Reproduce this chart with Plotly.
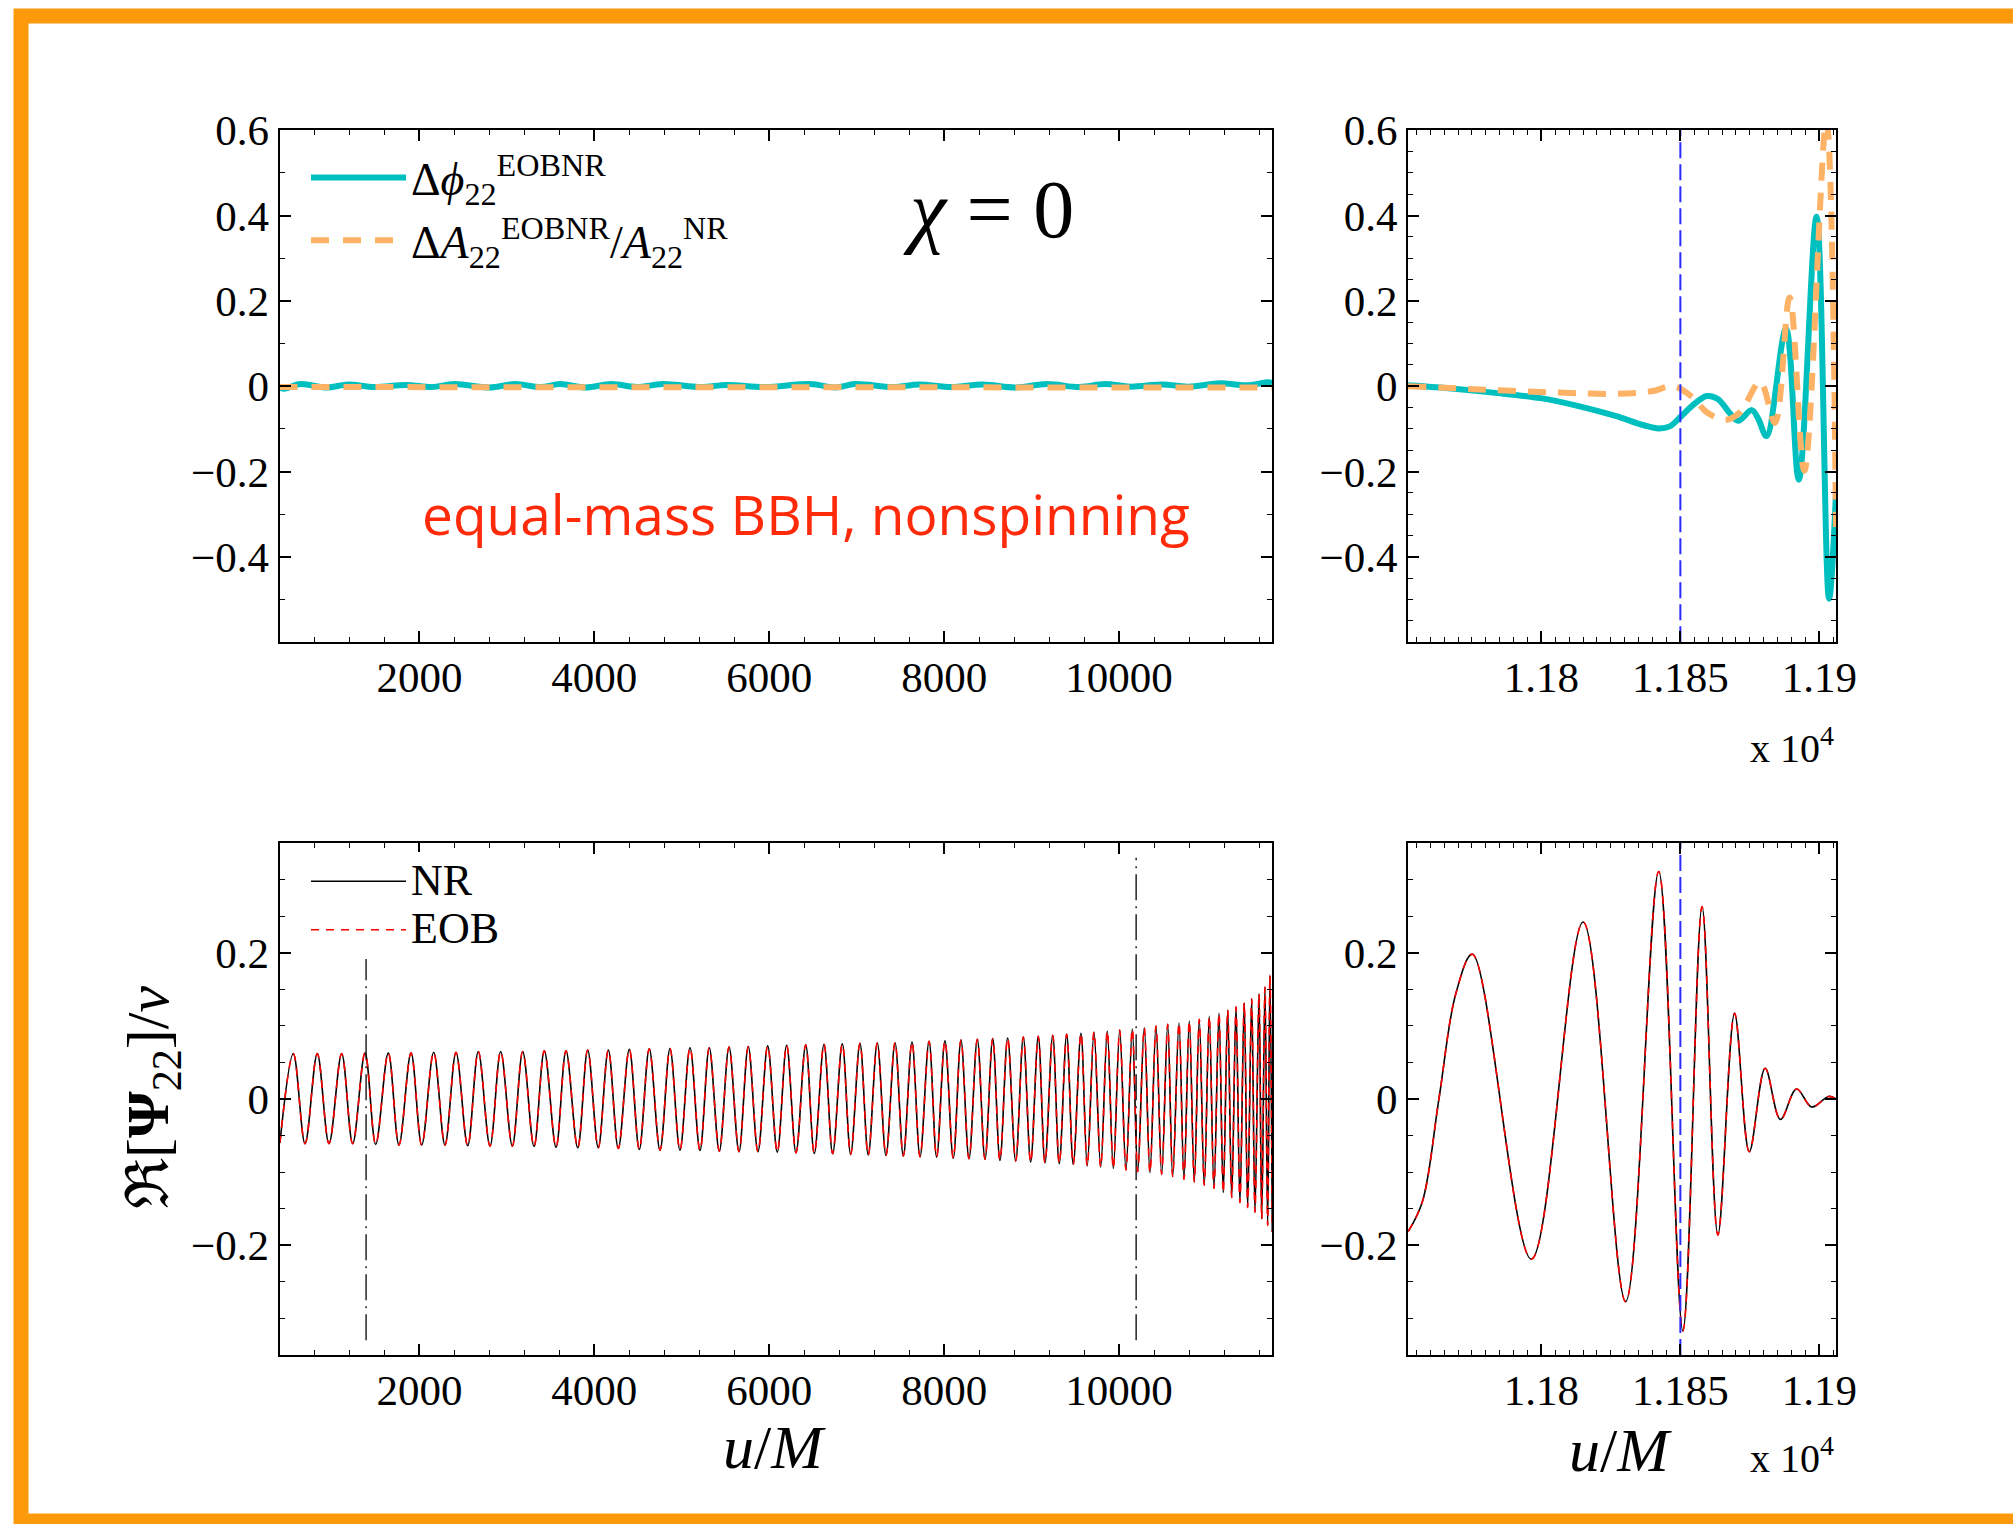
import plotly.graph_objects as go

# ---------------- data ----------------
# top-left panel: phase difference (cyan) and relative amplitude difference (orange)
dphi_u = [400, 456, 640, 933, 1189, 1483, 1849, 2142, 2399, 2802, 3095, 3388, 3608, 3901,
          4195, 4488, 4781, 5221, 5514, 5954, 6467, 6760, 6980, 7420, 7713, 8080, 8446,
          8813, 9179, 9546, 9839, 10132, 10497, 10791, 11158, 11451, 11708, 11752]
dphi = [-0.003, -0.006, 0.005, -0.003, 0.004, -0.002, 0.003, -0.002, 0.005, -0.003, 0.005,
        -0.002, 0.005, -0.003, 0.005, -0.002, 0.005, -0.002, 0.003, -0.002, 0.005, -0.003,
        0.005, -0.002, 0.004, -0.002, 0.004, -0.003, 0.005, -0.002, 0.005, -0.001, 0.004,
        -0.001, 0.007, 0.002, 0.009, 0.007]
damp_u = [400, 2000, 4000, 6000, 8000, 10000, 11752]
damp = [-0.002, -0.002, -0.001, -0.002, -0.002, -0.002, -0.003]

# top-right panel (zoom on merger)
dphi_m_u = [11752, 11766.5, 11782.5, 11799.7, 11813, 11826.3, 11836.9, 11842.2, 11846.2,
            11850.2, 11854.2, 11859.5, 11863.5, 11867.5, 11870.8, 11875.7, 11878.0, 11881.0,
            11888.0, 11892.6, 11899.0, 11903.5, 11906.0]
dphi_m = [0.002, -0.005, -0.015, -0.028, -0.046, -0.069, -0.0915, -0.099, -0.094, -0.071,
          -0.046, -0.023, -0.030, -0.061, -0.081, -0.056, -0.076, -0.117, 0.135, -0.219,
          0.397, -0.498, -0.249]
damp_m_u = [11752, 11779.8, 11806.4, 11826.3, 11839.6, 11847.5, 11854.2, 11859.5, 11866.2,
            11871.5, 11878.7, 11884.0, 11889.3, 11894.6, 11902.5, 11906.0]
damp_m = [0.0, -0.008, -0.015, -0.018, -0.012, 0.0, -0.025, -0.061, -0.079, -0.061, 0.01,
          -0.086, 0.208, -0.198, 0.62, -0.33]

# bottom-left panel: waveform extrema (u/M, Re[Psi22]/nu)
peak_u = [558, 832, 1111, 1378, 1644, 1904, 2163, 2418, 2673, 2929, 3181, 3428, 3676, 3924, 4160,
          4400, 4628, 4865, 5094, 5314, 5540, 5760, 5982, 6199, 6417, 6626, 6835, 7037, 7235,
          7438, 7632, 7827, 8009,
          8192, 8379, 8555, 8726, 8905, 9076, 9241, 9401, 9564, 9713, 9865, 10007, 10151, 10288,
          10422, 10556, 10685, 10803, 10917, 11031, 11142, 11242, 11337, 11431, 11516, 11600,
          11668, 11725]
peak_amp = [0.062, 0.062, 0.062, 0.063, 0.063, 0.063, 0.064, 0.064, 0.065, 0.065, 0.065, 0.066,
            0.066, 0.067, 0.067,
            0.068, 0.0685, 0.069, 0.070, 0.070, 0.071, 0.0717, 0.0726, 0.0735, 0.074, 0.0748,
            0.0753, 0.076, 0.0766, 0.077, 0.078, 0.0789, 0.0794,
            0.0807, 0.0816, 0.0825, 0.0834, 0.0848, 0.0857, 0.0871, 0.0884, 0.0898, 0.0916,
            0.093, 0.0943, 0.0957, 0.0975, 0.0998, 0.102, 0.104, 0.1066, 0.109, 0.113, 0.117,
            0.1215, 0.126, 0.1315, 0.137, 0.144, 0.153, 0.169]
trough_u = [405, 692, 966, 1237, 1500, 1766, 2026, 2292, 2552, 2807, 3062, 3310, 3562, 3810, 4045,
            4274, 4514, 4751, 4979, 5208, 5429, 5654, 5871, 6092, 6306, 6515, 6725, 6931, 7132,
            7335, 7533, 7724, 7914,
            8104, 8284, 8467, 8638, 8818, 8989, 9153, 9316, 9476, 9636, 9790, 9934, 10079, 10213,
            10353, 10487, 10613, 10742, 10860, 10974, 11085, 11191, 11288, 11382, 11470, 11554,
            11631, 11699, 11752]
trough_amp = [0.060, 0.061, 0.061, 0.061, 0.062, 0.063, 0.063, 0.063, 0.064, 0.0644, 0.0644,
              0.065, 0.066, 0.0667, 0.0667,
              0.0676, 0.069, 0.070, 0.070, 0.0703, 0.0712, 0.072, 0.072, 0.0726, 0.0735, 0.0744,
              0.0748, 0.0757, 0.0766, 0.0771, 0.078, 0.0789, 0.0794,
              0.081, 0.0816, 0.0825, 0.0839, 0.0848, 0.0862, 0.0871, 0.0884, 0.0893, 0.0916,
              0.093, 0.0948, 0.097, 0.0993, 0.1007, 0.103, 0.106, 0.1097, 0.1134, 0.118, 0.1224,
              0.128, 0.1347, 0.1415, 0.1483, 0.155, 0.164, 0.173, 0.182]

# bottom-right panel: merger/ringdown waveform
merger_u = [11752.1, 11757.2, 11763.2, 11769.2, 11775.2, 11796.4, 11815.0, 11830.3, 11842.2,
            11850.9, 11857.8, 11863.5, 11869.5, 11874.8, 11880.5, 11886.0, 11891.8, 11897.3,
            11903.3, 11906.0]
merger_psi = [-0.181, -0.140, 0.002, 0.144, 0.198, -0.219, 0.242, -0.277, 0.311, -0.317, 0.263,
              -0.186, 0.117, -0.072, 0.042, -0.028, 0.0136, -0.011, 0.0035, 0.0]

# vertical markers
window_u = [1390, 10195]
window_y = [-0.33, 0.33]
t_ref = 11850

# tick labels for the zoomed panels
zoom_ticks = {"11800": "1.18", "11850": "1.185", "11900": "1.19"}

# ---------------- build curves ----------------
wave = sorted(list(zip(peak_u, peak_amp)) + [(u, -a) for u, a in zip(trough_u, trough_amp)])
wave_u = [p[0] for p in wave]
wave_psi = [p[1] for p in wave]

CYAN = "#00BFBF"
ORANGE = "#FDB266"
BLUE = "#2A2AFF"
SERIF = "Liberation Serif, DejaVu Serif, serif"

fig = go.Figure()

# top-left
fig.add_trace(go.Scatter(x=dphi_u, y=dphi, mode="lines", line=dict(color=CYAN, width=6, shape="spline"),
                         name="Δ<i>ϕ</i><sub>22</sub><sup>EOBNR</sup>", legend="legend",
                         legendgroup="a", xaxis="x", yaxis="y"))
fig.add_trace(go.Scatter(x=damp_u, y=damp, mode="lines",
                         line=dict(color=ORANGE, width=6, dash="18px,14px"),
                         name="Δ<i>A</i><sub>22</sub><sup>EOBNR</sup>/<i>A</i><sub>22</sub><sup>NR</sup>",
                         legend="legend", legendgroup="b", xaxis="x", yaxis="y"))
# top-right
fig.add_trace(go.Scatter(x=dphi_m_u, y=dphi_m, mode="lines",
                         line=dict(color=CYAN, width=6, shape="spline"),
                         showlegend=False, xaxis="x2", yaxis="y2"))
fig.add_trace(go.Scatter(x=damp_m_u, y=damp_m, mode="lines",
                         line=dict(color=ORANGE, width=6, dash="18px,12px", shape="spline"),
                         showlegend=False, xaxis="x2", yaxis="y2"))
fig.add_trace(go.Scatter(x=[t_ref, t_ref], y=[-0.6, 0.6], mode="lines",
                         line=dict(color=BLUE, width=2, dash="16px,6px"),
                         showlegend=False, xaxis="x2", yaxis="y2"))
# bottom-left
for wu in window_u:
    fig.add_trace(go.Scatter(x=[wu, wu], y=window_y, mode="lines",
                             line=dict(color="black", width=1.3, dash="26px,6px,2px,6px"),
                             showlegend=False, xaxis="x3", yaxis="y3"))
fig.add_trace(go.Scatter(x=wave_u, y=wave_psi, mode="lines",
                         line=dict(color="black", width=1.6, shape="spline"),
                         name='<span style="font-size:44px">NR</span>', legend="legend2",
                         legendgroup="c", xaxis="x3", yaxis="y3"))
fig.add_trace(go.Scatter(x=wave_u, y=wave_psi, mode="lines",
                         line=dict(color="red", width=1.6, dash="8px,7px", shape="spline"),
                         name='<span style="font-size:44px">EOB</span>', legend="legend2",
                         legendgroup="d", xaxis="x3", yaxis="y3"))
# bottom-right
fig.add_trace(go.Scatter(x=merger_u, y=merger_psi, mode="lines",
                         line=dict(color="black", width=1.6, shape="spline"),
                         showlegend=False, xaxis="x4", yaxis="y4"))
fig.add_trace(go.Scatter(x=merger_u, y=merger_psi, mode="lines",
                         line=dict(color="red", width=1.6, dash="8px,7px", shape="spline"),
                         showlegend=False, xaxis="x4", yaxis="y4"))
fig.add_trace(go.Scatter(x=[t_ref, t_ref], y=[-0.35, 0.35], mode="lines",
                         line=dict(color=BLUE, width=2, dash="16px,6px"),
                         showlegend=False, xaxis="x4", yaxis="y4"))

W, H = 2013, 1524
XL = [279.5 / W, 1272.3 / W]
XR = [1408 / W, 1836 / W]
YT = [1 - 642 / H, 1 - 130 / H]
YB = [1 - 1355 / H, 1 - 843 / H]


def minor(step):
    return dict(ticks="inside", dtick=step, tick0=0, ticklen=5, tickcolor="black", tickwidth=1.2,
                showgrid=False)


def ax(**kw):
    base = dict(showline=True, linecolor="black", linewidth=2, mirror="ticks", ticks="inside",
                ticklen=11, tickwidth=1.5, tickcolor="black", showgrid=False, zeroline=False,
                automargin=False, tickmode="linear", tick0=0,
                tickfont=dict(family=SERIF, size=43, color="black"))
    base.update(kw)
    return base


fig.update_layout(
    template="none",
    width=W, height=H, margin=dict(l=0, r=0, t=0, b=0, pad=0),
    paper_bgcolor="white", plot_bgcolor="white",
    xaxis=ax(domain=XL, anchor="y", range=[400, 11752], dtick=2000, tickformat="d",
             ticklabelstandoff=-4, minor=minor(400)),
    yaxis=ax(domain=YT, anchor="x", range=[-0.5995, 0.6005], dtick=0.2,
             ticklabelstandoff=0, minor=minor(0.1)),
    xaxis2=ax(domain=XR, anchor="y2", range=[11752, 11906], dtick=50,
              tickformat="d", labelalias=zoom_ticks, ticklabelstandoff=-4, minor=minor(5)),
    yaxis2=ax(domain=YT, anchor="x2", range=[-0.5995, 0.6005], dtick=0.2,
              ticklabelstandoff=0, minor=minor(0.05)),
    xaxis3=ax(domain=XL, anchor="y3", range=[400, 11752], dtick=2000, tickformat="d",
              ticklabelstandoff=-4, minor=minor(400)),
    yaxis3=ax(domain=YB, anchor="x3", range=[-0.35, 0.35], dtick=0.2,
              ticklabelstandoff=0, minor=minor(0.05)),
    xaxis4=ax(domain=XR, anchor="y4", range=[11752, 11906], dtick=50,
              tickformat="d", labelalias=zoom_ticks, ticklabelstandoff=-4, minor=minor(5)),
    yaxis4=ax(domain=YB, anchor="x4", range=[-0.35, 0.35], dtick=0.2,
              ticklabelstandoff=0, minor=minor(0.05)),
    legend=dict(x=306 / W, y=1 - 141 / H, xanchor="left", yanchor="top", itemwidth=95,
                bgcolor="rgba(255,255,255,0)", borderwidth=0, tracegroupgap=0,
                font=dict(family=SERIF, size=46, color="black")),
    legend2=dict(x=306 / W, y=1 - 852 / H, xanchor="left", yanchor="top", itemwidth=95,
                 bgcolor="white", borderwidth=0, tracegroupgap=0,
                 font=dict(family=SERIF, size=35, color="black")),
    showlegend=True,
)

annos = [
    dict(text="x 10<sup>4</sup>", x=1792 / W, y=1 - 745 / H, size=40, fam=SERIF, color="black", angle=0),
    dict(text="x 10<sup>4</sup>", x=1792 / W, y=1 - 1455 / H, size=40, fam=SERIF, color="black", angle=0),
    dict(text="<i>u</i>/<i>M</i>", x=774 / W, y=1 - 1447 / H, size=62, fam=SERIF, color="black", angle=0),
    dict(text="<i>u</i>/<i>M</i>", x=1620 / W, y=1 - 1450 / H, size=62, fam=SERIF, color="black", angle=0),
    dict(text="ℜ[<b>Ψ</b><sub>22</sub>]/<i>ν</i>", x=152 / W, y=1 - 1098 / H, size=60, fam=SERIF,
         color="black", angle=-90),
    dict(text="<i>χ</i> = 0", x=988 / W, y=1 - 210 / H, size=82, fam=SERIF, color="black", angle=0),
    dict(text="equal-mass BBH, nonspinning", x=806 / W, y=1 - 514 / H, size=55,
         fam="Open Sans, Noto Sans, sans-serif", color="#FF2A0A", angle=0),
]
for a in annos:
    fig.add_annotation(text=a["text"], x=a["x"], y=a["y"], xref="paper", yref="paper",
                       showarrow=False, xanchor="center", yanchor="middle", textangle=a["angle"],
                       font=dict(family=a["fam"], size=a["size"], color=a["color"]))

# hand-drawn style orange frame
fig.add_shape(type="rect", xref="paper", yref="paper", x0=21 / W, x1=1.02, y0=1 - 1521 / H, y1=1 - 16 / H,
              line=dict(color="#FD9A0C", width=15), fillcolor="rgba(0,0,0,0)", layer="above")

fig.write_html("out.html", config={"displayModeBar": False},
               post_script="document.body.style.margin='0px';document.body.style.overflow='hidden';")
